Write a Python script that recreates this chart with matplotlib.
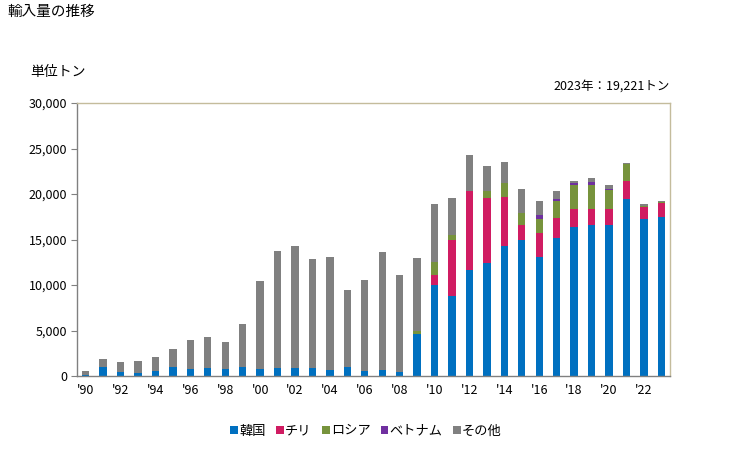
import matplotlib
matplotlib.use("Agg")
import matplotlib.pyplot as plt
import numpy as np

plt.rcParams['font.family'] = ['Noto Sans CJK JP', 'DejaVu Sans']

years = list(range(1990, 2024))
korea = [100, 1020, 480, 330, 550, 1020, 770, 880, 770, 990,
         770, 880, 880, 880, 660, 990, 550, 660, 440, 4620,
         10010, 8830, 11700, 12430, 14330, 14990, 13090, 15210, 16320, 16610,
         16540, 19400, 17270, 17490]
chile = [0, 0, 0, 0, 0, 0, 0, 0, 0, 0,
         0, 0, 0, 0, 0, 0, 0, 0, 0, 0,
         1100, 6130, 8650, 7150, 5360, 1620, 2640, 2170, 2050, 1760,
         1830, 1980, 1320, 1550]
russia = [0, 0, 0, 0, 0, 0, 0, 0, 0, 0,
          0, 0, 0, 0, 0, 0, 0, 0, 0, 330,
          1460, 550, 0, 770, 1470, 1250, 1540, 1870, 2640, 2640,
          2090, 1940, 80, 50]
vietnam = [0, 0, 0, 0, 0, 0, 0, 0, 0, 0,
           0, 0, 0, 0, 0, 0, 0, 0, 0, 0,
           0, 0, 0, 0, 0, 0, 370, 150, 150, 260,
           110, 0, 0, 0]
other = [450, 850, 1060, 1320, 1540, 1950, 3190, 3410, 2970, 4730,
         9680, 12870, 13420, 11990, 12430, 8470, 10010, 12980, 10670, 8030,
         6350, 4000, 3960, 2750, 2380, 2710, 1610, 950, 290, 510,
         440, 110, 250, 131]

series_names = ['韓国', 'チリ', 'ロシア', 'ベトナム', 'その他']
series_colors = ['#0070c0', '#d01c62', '#77933c', '#7030a0', '#808080']
series_data = [korea, chile, russia, vietnam, other]

title = '輸入量の推移'
unit_label = '単位トン'
note = '2023年：19,221トン'
yticks = [0, 5000, 10000, 15000, 20000, 25000, 30000]

fig = plt.figure(figsize=(7.29, 4.5), dpi=100)
ax = fig.add_axes([77/729, (450-376)/450, (670-77)/729, (376-103)/450])

x = np.arange(len(years))
bottom = np.zeros(len(years))
for name, col, data in zip(series_names, series_colors, series_data):
    d = np.array(data, dtype=float)
    ax.bar(x, d, width=0.42, bottom=bottom, color=col, label=name, linewidth=0)
    bottom += d

ax.set_xlim(-0.5, len(years) - 0.5)
ax.set_ylim(0, 30000)
ax.set_yticks(yticks)
ax.set_yticklabels([f'{v:,}' for v in yticks], fontsize=9)
xt = [i for i, yv in enumerate(years) if yv % 2 == 0]
ax.set_xticks(xt)
ax.set_xticklabels([f"'{years[i] % 100:02d}" for i in xt], fontsize=9)
ax.tick_params(axis='x', length=0, pad=6)
ax.tick_params(axis='y', length=4, color='#808080', pad=3)

for s in ['left', 'bottom']:
    ax.spines[s].set_color('#808080')
    ax.spines[s].set_linewidth(1)
for s in ['top', 'right']:
    ax.spines[s].set_color('#c4bc9c')
    ax.spines[s].set_linewidth(1)

fig.text(7/729, 1 - 12/450, title, fontsize=10.5, ha='left', va='center')
fig.text(30/729, 1 - 72/450, unit_label, fontsize=10, ha='left', va='center')
fig.text(670/729, 1 - 86/450, note, fontsize=9, ha='right', va='center')

leg = fig.legend(loc='center', bbox_to_anchor=(366/729, 1 - 431/450), ncol=5,
                 frameon=False, fontsize=9.5, handlelength=0.6, handleheight=0.6,
                 handletextpad=0.1, columnspacing=0.75)

fig.savefig('out.png', dpi=100)
